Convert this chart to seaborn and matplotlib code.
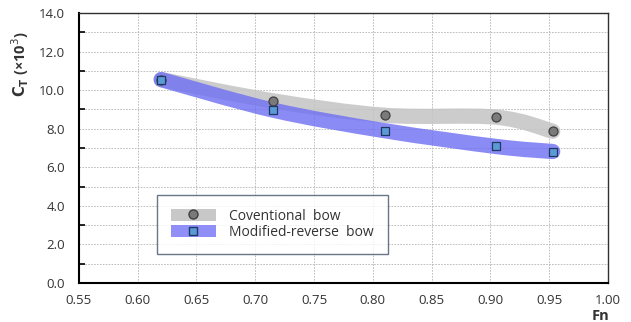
import numpy as np
import pandas as pd
import matplotlib
matplotlib.use("Agg")
import matplotlib.pyplot as plt
import seaborn as sns
from matplotlib.path import Path
from matplotlib.patches import PathPatch, Patch
from matplotlib.lines import Line2D

fn = [0.620, 0.715, 0.810, 0.905, 0.953]
ct_conventional = [10.55, 9.45, 8.70, 8.60, 7.87]
ct_modified = [10.55, 8.97, 7.90, 7.08, 6.82]
series_names = ["Coventional  bow", "Modified-reverse  bow"]
x_ticks = [0.55, 0.60, 0.65, 0.70, 0.75, 0.80, 0.85, 0.90, 0.95, 1.00]
y_ticks = [0.0, 2.0, 4.0, 6.0, 8.0, 10.0, 12.0, 14.0]

sns.set_theme(style="white")
plt.rcParams["font.family"] = ["Open Sans", "DejaVu Sans"]

fig = plt.figure(figsize=(6.31, 3.22), dpi=100)
ax = fig.add_axes([0.125, 0.121, 0.8385, 0.8385])

df_c = pd.DataFrame({"Fn": fn, "CT": ct_conventional})
df_m = pd.DataFrame({"Fn": fn, "CT": ct_modified})


def smooth_path(xs, ys):
    pts = np.column_stack([xs, ys]).astype(float)
    verts = [pts[0]]
    codes = [Path.MOVETO]
    n = len(pts)
    for i in range(n - 1):
        p0 = pts[i - 1] if i > 0 else pts[i]
        p1 = pts[i]
        p2 = pts[i + 1]
        p3 = pts[i + 2] if i + 2 < n else pts[i + 1]
        c1 = p1 + (p2 - p0) / 6.0
        c2 = p2 - (p3 - p1) / 6.0
        verts += [c1, c2, p2]
        codes += [Path.CURVE4] * 3
    return Path(verts, codes)


line_colors = ["#c4c4c4", "#6e6ef3"]
line_alpha = [0.85, 0.8]
for ys, c, a in zip([ct_conventional, ct_modified], line_colors, line_alpha):
    patch = PathPatch(smooth_path(fn, ys), facecolor="none", edgecolor=c,
                      linewidth=11, alpha=a, capstyle="round", joinstyle="round", zorder=2)
    ax.add_patch(patch)

sns.scatterplot(data=df_c, x="Fn", y="CT", color="#7a7a7a", marker="o",
                s=42, edgecolor="#404040", linewidth=0.9, ax=ax, zorder=4, legend=False)
sns.scatterplot(data=df_m, x="Fn", y="CT", color="#5b9bd5", marker="s",
                s=38, edgecolor="#1f3864", linewidth=0.9, ax=ax, zorder=5, legend=False)

ax.set_xlim(0.55, 1.00)
ax.set_ylim(0, 14)
ax.set_xticks(x_ticks)
ax.set_xticklabels([f"{v:.2f}" for v in x_ticks])
ax.set_yticks(y_ticks)
ax.set_yticklabels([f"{v:.1f}" for v in y_ticks])
ax.set_yticks(np.arange(1, 14, 2), minor=True)
gs = dict(color="#b4b4b4", linestyle=(0, (2, 1.5)), linewidth=0.6)
ax.grid(True, which="both", axis="y", **gs)
ax.grid(True, which="major", axis="x", **gs)
ax.set_axisbelow(True)
ax.tick_params(axis="x", which="major", direction="in", length=4, width=1.2,
               color="black", labelsize=9.5, labelcolor="#333333", pad=8, top=False)
ax.tick_params(axis="y", which="major", length=0, labelsize=9.5, labelcolor="#333333", pad=10)
ax.tick_params(axis="y", which="minor", direction="in", left=True, right=False,
               length=4, width=1.2, color="black")
for side in ["left", "bottom"]:
    ax.spines[side].set_color("black")
    ax.spines[side].set_linewidth(1.5)
for side in ["top", "right"]:
    ax.spines[side].set_visible(True)
    ax.spines[side].set_color("#303030")
    ax.spines[side].set_linewidth(1.0)

ax.set_xlabel("")
ax.set_ylabel("")
fig.text(0.032, 0.80, r"$\mathbf{C_T}$ (×10$^3$)", rotation=90, ha="center", va="center",
         fontsize=10.5, fontweight="bold", color="#333333")
fig.text(0.951, 0.02, "Fn", ha="center", va="center", fontsize=10.5,
         fontweight="bold", color="#333333")

handles = [
    (Patch(facecolor="#c8c8c8", edgecolor="none"),
     Line2D([], [], marker="o", linestyle="none", markerfacecolor="#7a7a7a",
            markeredgecolor="#404040", markersize=6.5)),
    (Patch(facecolor="#8f8ff7", edgecolor="none"),
     Line2D([], [], marker="s", linestyle="none", markerfacecolor="#5b9bd5",
            markeredgecolor="#1f3864", markersize=6)),
]
leg = ax.legend(handles, series_names, loc="lower left", bbox_to_anchor=(0.148, 0.108),
                frameon=True, fancybox=False, fontsize=10, handlelength=3.2, handleheight=0.9,
                borderpad=1.0, labelspacing=0.1, handletextpad=1.0, borderaxespad=0)
leg.get_frame().set_edgecolor("#44546a")
leg.get_frame().set_linewidth(1.0)
for t in leg.get_texts():
    t.set_color("#333333")

fig.savefig("out.png", dpi=100)
